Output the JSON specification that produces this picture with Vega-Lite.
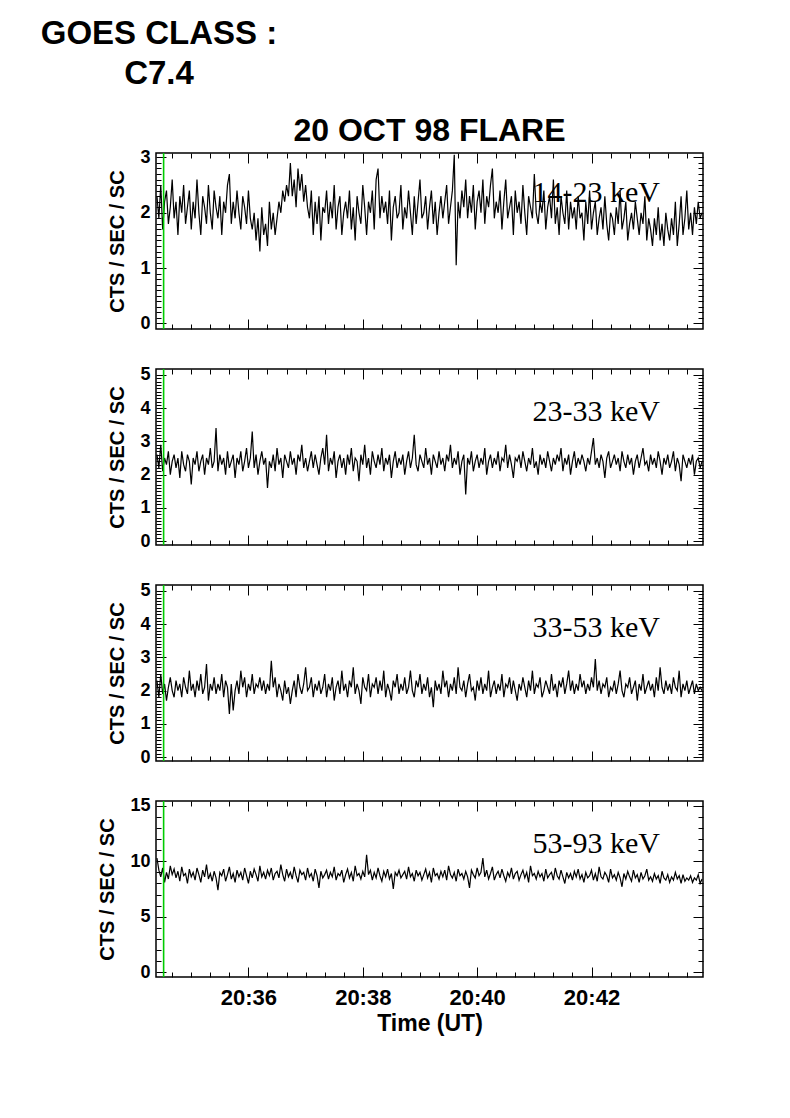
{
"$schema": "https://vega.github.io/schema/vega-lite/v6.json",
"padding": {"left": 40, "top": 17, "right": 10, "bottom": 10},
"background": "white",
"bounds": "flush",
"config": {
  "view": {"stroke": "black", "strokeWidth": 1.5},
  "axis": {"domain": false, "grid": false, "tickColor": "black", "tickWidth": 1, "labelColor": "black", "titleColor": "black", "labelFont": "Liberation Sans", "labelFontWeight": "bold", "titleFont": "Liberation Sans", "titleFontWeight": "bold"}
},
"title": {"text": ["GOES CLASS :", "C7.4"], "anchor": "start", "align": "center", "dx": 3, "fontSize": 33, "fontWeight": "bold", "font": "Liberation Sans", "lineHeight": 40, "offset": 24, "frame": "group", "color": "black"},
"spacing": 40,
"datasets": {"s": [
{"t":24,"a":2.3,"b":2.6,"c":2.3,"d":10.3},
{"t":26,"a":1.9,"b":2.2,"c":1.8,"d":9.2},
{"t":28,"a":2.5,"b":2.9,"c":2.5,"d":8.6},
{"t":30,"a":1.7,"b":2.1,"c":1.9,"d":9.4},
{"t":32,"a":2.2,"b":2.5,"c":2.2,"d":8.1},
{"t":34,"a":2.4,"b":2.3,"c":1.7,"d":9.0},
{"t":36,"a":1.8,"b":2.7,"c":2.1,"d":8.4},
{"t":38,"a":2.1,"b":2.0,"c":2.4,"d":9.6},
{"t":40,"a":2.6,"b":2.4,"c":2.0,"d":8.8},
{"t":42,"a":1.9,"b":2.6,"c":1.8,"d":9.3},
{"t":44,"a":2.2,"b":2.2,"c":2.3,"d":8.5},
{"t":46,"a":1.6,"b":2.5,"c":2.0,"d":9.1},
{"t":48,"a":2.3,"b":1.9,"c":2.2,"d":8.2},
{"t":50,"a":2.0,"b":2.7,"c":1.8,"d":9.5},
{"t":52,"a":2.5,"b":2.3,"c":2.4,"d":8.7},
{"t":54,"a":1.8,"b":2.1,"c":2.1,"d":8.9},
{"t":56,"a":2.1,"b":2.6,"c":1.9,"d":8.0},
{"t":58,"a":2.4,"b":2.4,"c":2.6,"d":9.3},
{"t":60,"a":1.7,"b":1.7,"c":2.0,"d":8.6},
{"t":62,"a":2.2,"b":2.5,"c":2.2,"d":9.0},
{"t":64,"a":1.9,"b":2.3,"c":1.8,"d":8.3},
{"t":66,"a":2.6,"b":2.7,"c":2.3,"d":9.4},
{"t":68,"a":2.0,"b":2.1,"c":2.0,"d":8.8},
{"t":70,"a":1.6,"b":2.4,"c":2.5,"d":8.1},
{"t":72,"a":2.3,"b":2.6,"c":1.9,"d":9.2},
{"t":74,"a":2.1,"b":2.0,"c":2.1,"d":8.6},
{"t":76,"a":1.8,"b":2.5,"c":2.8,"d":9.7},
{"t":78,"a":2.5,"b":2.3,"c":1.7,"d":8.4},
{"t":80,"a":2.0,"b":2.8,"c":2.2,"d":8.9},
{"t":82,"a":1.7,"b":2.2,"c":2.0,"d":8.2},
{"t":84,"a":2.4,"b":2.4,"c":2.4,"d":9.1},
{"t":86,"a":2.1,"b":3.4,"c":1.9,"d":8.5},
{"t":88,"a":1.9,"b":2.1,"c":2.2,"d":7.4},
{"t":90,"a":2.3,"b":2.6,"c":2.0,"d":9.0},
{"t":92,"a":1.6,"b":2.3,"c":2.5,"d":8.7},
{"t":94,"a":2.2,"b":2.5,"c":1.8,"d":9.3},
{"t":96,"a":2.0,"b":2.0,"c":2.3,"d":8.2},
{"t":98,"a":2.5,"b":2.7,"c":2.1,"d":8.8},
{"t":100,"a":2.7,"b":2.2,"c":1.3,"d":9.5},
{"t":102,"a":1.8,"b":2.4,"c":2.2,"d":8.4},
{"t":104,"a":2.2,"b":2.6,"c":1.4,"d":8.9},
{"t":106,"a":1.9,"b":1.9,"c":2.0,"d":8.1},
{"t":108,"a":2.4,"b":2.5,"c":2.3,"d":9.2},
{"t":110,"a":2.0,"b":2.3,"c":1.9,"d":8.6},
{"t":112,"a":1.7,"b":2.7,"c":2.6,"d":9.0},
{"t":114,"a":2.3,"b":2.1,"c":2.1,"d":8.3},
{"t":116,"a":2.1,"b":2.4,"c":2.4,"d":9.4},
{"t":118,"a":1.8,"b":2.8,"c":1.8,"d":8.7},
{"t":120,"a":2.4,"b":2.2,"c":2.2,"d":8.0},
{"t":122,"a":1.9,"b":2.5,"c":2.0,"d":9.1},
{"t":124,"a":1.7,"b":3.3,"c":2.5,"d":8.5},
{"t":126,"a":2.0,"b":2.2,"c":1.9,"d":9.3},
{"t":128,"a":1.5,"b":2.6,"c":2.2,"d":8.8},
{"t":130,"a":1.9,"b":2.0,"c":2.1,"d":8.2},
{"t":132,"a":1.3,"b":2.4,"c":2.4,"d":9.6},
{"t":134,"a":2.1,"b":2.7,"c":2.0,"d":8.6},
{"t":136,"a":1.6,"b":2.3,"c":2.3,"d":9.0},
{"t":138,"a":1.8,"b":2.5,"c":1.9,"d":8.4},
{"t":140,"a":1.4,"b":1.6,"c":2.2,"d":9.2},
{"t":142,"a":2.2,"b":2.4,"c":2.0,"d":8.7},
{"t":144,"a":1.7,"b":2.2,"c":2.9,"d":9.4},
{"t":146,"a":2.0,"b":2.6,"c":2.1,"d":8.3},
{"t":148,"a":1.6,"b":2.1,"c":2.4,"d":8.9},
{"t":150,"a":1.9,"b":2.8,"c":1.8,"d":9.1},
{"t":152,"a":2.2,"b":2.3,"c":2.2,"d":8.5},
{"t":154,"a":2.0,"b":2.5,"c":2.0,"d":9.7},
{"t":156,"a":2.4,"b":1.9,"c":1.7,"d":8.8},
{"t":158,"a":2.2,"b":2.6,"c":2.3,"d":8.2},
{"t":160,"a":2.5,"b":2.4,"c":1.9,"d":9.3},
{"t":162,"a":2.3,"b":2.2,"c":2.1,"d":8.6},
{"t":164,"a":2.9,"b":2.7,"c":1.6,"d":9.0},
{"t":166,"a":2.3,"b":2.3,"c":2.0,"d":8.4},
{"t":168,"a":2.6,"b":2.5,"c":2.3,"d":9.5},
{"t":170,"a":2.1,"b":2.0,"c":1.8,"d":8.7},
{"t":172,"a":2.8,"b":2.6,"c":2.5,"d":8.1},
{"t":174,"a":2.4,"b":2.4,"c":2.1,"d":9.2},
{"t":176,"a":2.7,"b":2.9,"c":1.9,"d":8.8},
{"t":178,"a":2.2,"b":2.2,"c":2.2,"d":9.0},
{"t":180,"a":2.5,"b":2.5,"c":2.7,"d":8.3},
{"t":182,"a":2.1,"b":2.1,"c":2.0,"d":9.4},
{"t":184,"a":1.9,"b":2.4,"c":2.1,"d":8.6},
{"t":186,"a":2.4,"b":2.7,"c":2.4,"d":8.9},
{"t":188,"a":1.6,"b":2.2,"c":1.8,"d":8.2},
{"t":190,"a":2.2,"b":2.6,"c":2.2,"d":9.3},
{"t":192,"a":1.8,"b":2.3,"c":2.0,"d":8.7},
{"t":194,"a":2.3,"b":2.0,"c":2.3,"d":7.6},
{"t":196,"a":1.5,"b":2.5,"c":1.9,"d":9.1},
{"t":198,"a":2.1,"b":2.8,"c":2.1,"d":8.5},
{"t":200,"a":2.0,"b":2.3,"c":2.5,"d":8.8},
{"t":202,"a":2.4,"b":3.2,"c":1.8,"d":9.2},
{"t":204,"a":1.8,"b":2.1,"c":2.2,"d":8.4},
{"t":206,"a":2.2,"b":2.5,"c":2.0,"d":9.0},
{"t":208,"a":1.9,"b":2.3,"c":2.4,"d":8.6},
{"t":210,"a":2.5,"b":2.7,"c":1.7,"d":9.5},
{"t":212,"a":1.7,"b":1.9,"c":2.1,"d":8.3},
{"t":214,"a":2.1,"b":2.4,"c":2.3,"d":8.9},
{"t":216,"a":2.3,"b":2.6,"c":1.9,"d":8.7},
{"t":218,"a":1.6,"b":2.2,"c":2.6,"d":9.2},
{"t":220,"a":2.0,"b":2.5,"c":2.0,"d":8.1},
{"t":222,"a":2.2,"b":2.0,"c":2.2,"d":8.8},
{"t":224,"a":1.9,"b":2.6,"c":1.8,"d":9.3},
{"t":226,"a":2.4,"b":2.3,"c":2.3,"d":8.5},
{"t":228,"a":1.7,"b":2.8,"c":2.1,"d":9.0},
{"t":230,"a":2.1,"b":2.1,"c":2.7,"d":8.2},
{"t":232,"a":1.5,"b":2.5,"c":1.9,"d":9.6},
{"t":234,"a":2.3,"b":2.4,"c":2.2,"d":8.7},
{"t":236,"a":2.0,"b":1.8,"c":2.0,"d":8.9},
{"t":238,"a":1.8,"b":2.6,"c":1.6,"d":8.4},
{"t":240,"a":2.5,"b":2.3,"c":2.4,"d":9.1},
{"t":242,"a":2.1,"b":2.9,"c":2.1,"d":8.6},
{"t":244,"a":1.6,"b":2.2,"c":2.0,"d":10.6},
{"t":246,"a":2.2,"b":2.5,"c":2.5,"d":8.8},
{"t":248,"a":2.0,"b":2.0,"c":1.8,"d":9.2},
{"t":250,"a":2.4,"b":2.7,"c":2.2,"d":8.3},
{"t":252,"a":1.7,"b":2.4,"c":2.1,"d":9.0},
{"t":254,"a":2.6,"b":2.2,"c":2.4,"d":8.5},
{"t":256,"a":2.8,"b":2.6,"c":1.9,"d":9.4},
{"t":258,"a":1.9,"b":2.3,"c":2.3,"d":8.7},
{"t":260,"a":2.3,"b":2.8,"c":2.0,"d":8.2},
{"t":262,"a":2.0,"b":2.1,"c":2.6,"d":9.1},
{"t":264,"a":2.2,"b":2.5,"c":1.8,"d":8.6},
{"t":266,"a":1.8,"b":2.3,"c":2.2,"d":9.3},
{"t":268,"a":2.4,"b":2.6,"c":2.0,"d":8.4},
{"t":270,"a":1.5,"b":1.9,"c":1.7,"d":8.9},
{"t":272,"a":2.1,"b":2.4,"c":2.3,"d":7.5},
{"t":274,"a":2.3,"b":2.7,"c":2.1,"d":9.0},
{"t":276,"a":1.9,"b":2.2,"c":2.5,"d":8.7},
{"t":278,"a":2.0,"b":2.5,"c":1.9,"d":9.2},
{"t":280,"a":2.5,"b":2.3,"c":2.2,"d":8.5},
{"t":282,"a":1.7,"b":2.6,"c":2.0,"d":8.8},
{"t":284,"a":2.1,"b":2.0,"c":2.4,"d":9.1},
{"t":286,"a":1.9,"b":2.4,"c":1.9,"d":8.4},
{"t":288,"a":2.4,"b":2.7,"c":2.1,"d":9.5},
{"t":290,"a":2.0,"b":2.2,"c":2.6,"d":8.6},
{"t":292,"a":1.6,"b":2.5,"c":2.0,"d":8.9},
{"t":294,"a":2.3,"b":3.2,"c":1.8,"d":8.2},
{"t":296,"a":1.8,"b":2.3,"c":2.3,"d":9.2},
{"t":298,"a":2.2,"b":2.1,"c":2.1,"d":8.7},
{"t":300,"a":2.6,"b":2.6,"c":2.5,"d":9.0},
{"t":302,"a":1.9,"b":2.4,"c":1.9,"d":8.3},
{"t":304,"a":2.0,"b":2.2,"c":2.2,"d":8.8},
{"t":306,"a":2.3,"b":2.8,"c":2.0,"d":9.3},
{"t":308,"a":1.7,"b":2.3,"c":2.4,"d":8.5},
{"t":310,"a":2.1,"b":2.5,"c":1.8,"d":9.0},
{"t":312,"a":2.4,"b":2.0,"c":2.1,"d":8.1},
{"t":314,"a":1.8,"b":2.6,"c":1.5,"d":9.4},
{"t":316,"a":2.2,"b":2.4,"c":2.3,"d":8.7},
{"t":318,"a":1.6,"b":2.2,"c":2.0,"d":8.9},
{"t":320,"a":2.0,"b":2.7,"c":2.2,"d":8.4},
{"t":322,"a":2.3,"b":2.3,"c":1.9,"d":9.1},
{"t":324,"a":1.9,"b":2.5,"c":2.6,"d":8.6},
{"t":326,"a":2.2,"b":2.1,"c":2.1,"d":9.2},
{"t":328,"a":2.5,"b":2.6,"c":2.3,"d":8.3},
{"t":330,"a":1.8,"b":2.4,"c":1.8,"d":9.6},
{"t":332,"a":2.1,"b":2.9,"c":2.2,"d":8.8},
{"t":334,"a":2.4,"b":2.2,"c":2.0,"d":8.5},
{"t":336,"a":3.05,"b":2.5,"c":2.4,"d":9.0},
{"t":338,"a":1.05,"b":2.3,"c":1.9,"d":8.2},
{"t":340,"a":2.2,"b":2.7,"c":2.7,"d":9.3},
{"t":342,"a":1.9,"b":2.0,"c":2.1,"d":8.7},
{"t":344,"a":2.4,"b":2.4,"c":2.0,"d":8.9},
{"t":346,"a":2.1,"b":2.6,"c":2.3,"d":8.4},
{"t":348,"a":2.6,"b":1.4,"c":1.8,"d":9.1},
{"t":350,"a":1.9,"b":2.5,"c":2.2,"d":8.6},
{"t":352,"a":2.3,"b":2.3,"c":2.5,"d":7.6},
{"t":354,"a":2.0,"b":2.7,"c":2.0,"d":9.2},
{"t":356,"a":2.5,"b":2.1,"c":2.1,"d":8.8},
{"t":358,"a":1.7,"b":2.4,"c":1.7,"d":8.5},
{"t":360,"a":2.2,"b":2.6,"c":2.3,"d":9.4},
{"t":362,"a":2.4,"b":2.2,"c":2.0,"d":8.7},
{"t":364,"a":2.0,"b":2.5,"c":2.4,"d":9.0},
{"t":366,"a":2.6,"b":2.3,"c":1.9,"d":10.3},
{"t":368,"a":1.8,"b":2.8,"c":2.2,"d":8.6},
{"t":370,"a":2.3,"b":2.0,"c":2.0,"d":9.2},
{"t":372,"a":2.1,"b":2.4,"c":2.6,"d":8.4},
{"t":374,"a":2.5,"b":2.6,"c":1.8,"d":8.9},
{"t":376,"a":2.8,"b":2.2,"c":2.1,"d":9.5},
{"t":378,"a":1.9,"b":2.5,"c":2.3,"d":8.3},
{"t":380,"a":2.2,"b":2.3,"c":1.9,"d":8.8},
{"t":382,"a":2.0,"b":2.7,"c":2.2,"d":9.1},
{"t":384,"a":2.4,"b":2.1,"c":2.0,"d":8.5},
{"t":386,"a":1.7,"b":2.5,"c":2.5,"d":9.3},
{"t":388,"a":2.2,"b":2.4,"c":1.8,"d":8.7},
{"t":390,"a":2.6,"b":2.9,"c":2.2,"d":8.2},
{"t":392,"a":1.9,"b":2.2,"c":2.1,"d":9.0},
{"t":394,"a":2.1,"b":2.6,"c":2.4,"d":8.6},
{"t":396,"a":2.3,"b":2.3,"c":1.9,"d":9.4},
{"t":398,"a":1.6,"b":1.9,"c":2.3,"d":8.4},
{"t":400,"a":2.4,"b":2.5,"c":2.0,"d":8.9},
{"t":402,"a":2.0,"b":2.4,"c":1.7,"d":9.1},
{"t":404,"a":2.2,"b":2.6,"c":2.2,"d":8.3},
{"t":406,"a":1.8,"b":2.2,"c":2.0,"d":8.8},
{"t":408,"a":2.5,"b":2.7,"c":2.4,"d":9.2},
{"t":410,"a":2.0,"b":2.4,"c":2.1,"d":8.5},
{"t":412,"a":1.6,"b":2.1,"c":1.8,"d":9.0},
{"t":414,"a":2.3,"b":2.5,"c":2.3,"d":8.1},
{"t":416,"a":2.1,"b":2.3,"c":2.0,"d":9.6},
{"t":418,"a":1.9,"b":2.8,"c":2.6,"d":8.7},
{"t":420,"a":2.7,"b":2.2,"c":1.9,"d":8.9},
{"t":422,"a":2.0,"b":2.4,"c":2.2,"d":8.4},
{"t":424,"a":1.8,"b":2.0,"c":2.1,"d":9.1},
{"t":426,"a":2.2,"b":2.6,"c":2.4,"d":8.6},
{"t":428,"a":2.0,"b":2.3,"c":1.8,"d":8.9},
{"t":430,"a":2.4,"b":2.5,"c":2.0,"d":8.2},
{"t":432,"a":1.7,"b":2.2,"c":2.3,"d":9.3},
{"t":434,"a":2.1,"b":2.7,"c":2.1,"d":8.5},
{"t":436,"a":2.3,"b":2.4,"c":1.9,"d":8.8},
{"t":438,"a":1.9,"b":2.1,"c":2.5,"d":9.0},
{"t":440,"a":2.6,"b":2.5,"c":2.0,"d":8.3},
{"t":442,"a":1.8,"b":2.3,"c":2.2,"d":9.4},
{"t":444,"a":2.1,"b":2.6,"c":1.8,"d":8.7},
{"t":446,"a":1.6,"b":2.4,"c":2.3,"d":8.4},
{"t":448,"a":2.3,"b":2.8,"c":2.1,"d":9.2},
{"t":450,"a":2.0,"b":2.1,"c":2.4,"d":8.6},
{"t":452,"a":1.8,"b":2.5,"c":1.9,"d":8.0},
{"t":454,"a":2.4,"b":2.3,"c":2.2,"d":9.0},
{"t":456,"a":1.7,"b":2.6,"c":2.6,"d":8.5},
{"t":458,"a":2.2,"b":2.0,"c":2.0,"d":8.9},
{"t":460,"a":1.9,"b":2.4,"c":2.3,"d":8.3},
{"t":462,"a":2.1,"b":2.7,"c":1.9,"d":9.1},
{"t":464,"a":1.7,"b":2.2,"c":2.2,"d":8.6},
{"t":466,"a":2.3,"b":2.5,"c":2.0,"d":9.3},
{"t":468,"a":1.9,"b":2.3,"c":2.5,"d":8.4},
{"t":470,"a":2.0,"b":2.6,"c":2.1,"d":8.8},
{"t":472,"a":1.5,"b":2.4,"c":2.3,"d":8.1},
{"t":474,"a":2.2,"b":2.1,"c":1.9,"d":9.0},
{"t":476,"a":1.8,"b":2.5,"c":2.2,"d":8.5},
{"t":478,"a":2.4,"b":2.3,"c":2.0,"d":8.7},
{"t":480,"a":1.7,"b":2.7,"c":2.4,"d":9.2},
{"t":482,"a":2.0,"b":3.1,"c":2.1,"d":8.3},
{"t":484,"a":2.2,"b":2.3,"c":2.95,"d":8.9},
{"t":486,"a":1.6,"b":2.5,"c":2.0,"d":8.2},
{"t":488,"a":1.9,"b":2.2,"c":2.3,"d":9.5},
{"t":490,"a":2.1,"b":2.6,"c":1.9,"d":8.6},
{"t":492,"a":1.7,"b":2.4,"c":2.2,"d":8.4},
{"t":494,"a":2.3,"b":1.9,"c":2.1,"d":9.0},
{"t":496,"a":1.8,"b":2.5,"c":2.4,"d":8.7},
{"t":498,"a":1.5,"b":2.7,"c":1.8,"d":8.1},
{"t":500,"a":2.0,"b":2.2,"c":2.1,"d":9.3},
{"t":502,"a":1.9,"b":2.4,"c":2.0,"d":8.5},
{"t":504,"a":1.6,"b":2.6,"c":2.3,"d":8.8},
{"t":506,"a":2.1,"b":2.3,"c":1.9,"d":8.3},
{"t":508,"a":1.8,"b":2.5,"c":2.2,"d":9.0},
{"t":510,"a":2.4,"b":2.1,"c":2.6,"d":8.5},
{"t":512,"a":1.7,"b":2.7,"c":2.0,"d":7.7},
{"t":514,"a":1.9,"b":2.4,"c":1.8,"d":8.9},
{"t":516,"a":2.2,"b":2.2,"c":2.2,"d":8.4},
{"t":518,"a":1.5,"b":2.6,"c":2.1,"d":9.1},
{"t":520,"a":1.8,"b":2.3,"c":2.4,"d":8.6},
{"t":522,"a":2.0,"b":2.5,"c":1.9,"d":8.2},
{"t":524,"a":1.7,"b":2.0,"c":2.1,"d":9.2},
{"t":526,"a":2.2,"b":2.4,"c":2.3,"d":8.5},
{"t":528,"a":1.9,"b":2.6,"c":1.7,"d":8.8},
{"t":530,"a":1.6,"b":2.2,"c":2.2,"d":8.1},
{"t":532,"a":2.0,"b":2.5,"c":2.0,"d":9.0},
{"t":534,"a":1.8,"b":2.8,"c":2.5,"d":8.4},
{"t":536,"a":2.3,"b":2.3,"c":1.9,"d":8.7},
{"t":538,"a":1.5,"b":2.4,"c":2.1,"d":9.3},
{"t":540,"a":1.9,"b":2.1,"c":2.3,"d":8.3},
{"t":542,"a":1.7,"b":2.6,"c":2.0,"d":8.6},
{"t":544,"a":1.4,"b":2.3,"c":2.2,"d":8.2},
{"t":546,"a":1.9,"b":2.5,"c":1.8,"d":8.9},
{"t":548,"a":1.6,"b":2.2,"c":2.4,"d":8.4},
{"t":550,"a":2.1,"b":2.7,"c":2.0,"d":8.7},
{"t":552,"a":1.5,"b":2.4,"c":2.7,"d":8.0},
{"t":554,"a":1.8,"b":2.0,"c":2.1,"d":9.1},
{"t":556,"a":1.4,"b":2.5,"c":1.9,"d":8.5},
{"t":558,"a":2.0,"b":2.3,"c":2.3,"d":8.3},
{"t":560,"a":1.7,"b":2.6,"c":2.0,"d":8.8},
{"t":562,"a":1.5,"b":2.2,"c":2.2,"d":8.1},
{"t":564,"a":1.9,"b":2.4,"c":1.9,"d":8.6},
{"t":566,"a":1.6,"b":2.7,"c":2.4,"d":8.3},
{"t":568,"a":2.2,"b":2.1,"c":2.1,"d":9.0},
{"t":570,"a":1.4,"b":2.5,"c":2.0,"d":8.4},
{"t":572,"a":1.8,"b":2.3,"c":2.6,"d":8.7},
{"t":574,"a":2.3,"b":1.8,"c":1.8,"d":8.0},
{"t":576,"a":1.6,"b":2.6,"c":2.2,"d":8.8},
{"t":578,"a":1.9,"b":2.4,"c":2.0,"d":8.2},
{"t":580,"a":2.4,"b":2.2,"c":2.3,"d":8.5},
{"t":582,"a":1.7,"b":2.5,"c":1.9,"d":8.3},
{"t":584,"a":2.0,"b":2.3,"c":2.1,"d":8.7},
{"t":586,"a":1.6,"b":2.6,"c":2.3,"d":8.1},
{"t":588,"a":2.1,"b":2.0,"c":1.9,"d":8.5},
{"t":590,"a":1.8,"b":2.4,"c":2.2,"d":8.3},
{"t":592,"a":2.2,"b":2.5,"c":2.0,"d":8.8},
{"t":594,"a":1.9,"b":2.2,"c":2.1,"d":8.0},
{"t":596,"a":2.0,"b":2.4,"c":2.0,"d":8.4}
]},
"vconcat": [
{
  "width": 547, "height": 176,
  "title": {"text": "20 OCT 98 FLARE", "fontSize": 32, "fontWeight": "bold", "font": "Liberation Sans", "offset": 0, "anchor": "middle", "color": "black"},
  "layer": [
    {"data": {"name": "s"}, "mark": {"type": "line", "color": "black", "strokeWidth": 1.2, "clip": true},
     "encoding": {
       "x": {"field": "t", "type": "quantitative", "scale": {"domain": [23, 597], "nice": false, "zero": false},
             "axis": {"orient": "bottom", "values": [40,60,80,100,120,140,160,180,200,220,240,260,280,300,320,340,360,380,400,420,440,460,480,500,520,540,560,580], "labels": false, "title": null, "tickSize": {"condition": {"test": "datum.value % 120 == 0", "value": -10}, "value": -5}}},
       "y": {"field": "a", "type": "quantitative", "scale": {"domain": [-0.1, 3.08], "nice": false, "zero": false},
             "axis": {"orient": "left", "values": [0,0.1,0.2,0.3,0.4,0.5,0.6,0.7,0.8,0.9,1,1.1,1.2,1.3,1.4,1.5,1.6,1.7,1.8,1.9,2,2.1,2.2,2.3,2.4,2.5,2.6,2.7,2.8,2.9,3], "labelExpr": "datum.value % 1 == 0 ? datum.value + '' : ''", "labelFontSize": 18, "labelPadding": 16, "title": "CTS / SEC / SC", "titleFontSize": 20, "titlePadding": 12, "tickSize": {"condition": {"test": "datum.value % 1 == 0", "value": -10}, "value": -5}}}
     }},
    {"data": {"values": [{"g": 31}]}, "mark": {"type": "rule", "color": "#00cc00", "strokeWidth": 1.6},
     "encoding": {"x": {"field": "g", "type": "quantitative", "scale": {"domain": [23, 597], "nice": false, "zero": false}, "axis": null}}},
    {"data": {"values": [{"tx": 485, "ty": 2.36, "lab": "14-23 keV"}]}, "mark": {"type": "text", "font": "Liberation Serif", "fontSize": 30, "color": "black"},
     "encoding": {
       "x": {"field": "tx", "type": "quantitative", "scale": {"domain": [23, 597], "nice": false, "zero": false},
             "axis": {"orient": "top", "values": [40,60,80,100,120,140,160,180,200,220,240,260,280,300,320,340,360,380,400,420,440,460,480,500,520,540,560,580], "labels": false, "title": null, "tickSize": {"condition": {"test": "datum.value % 120 == 0", "value": -10}, "value": -5}}},
       "y": {"field": "ty", "type": "quantitative", "scale": {"domain": [-0.1, 3.08], "nice": false, "zero": false},
             "axis": {"orient": "right", "values": [0,0.1,0.2,0.3,0.4,0.5,0.6,0.7,0.8,0.9,1,1.1,1.2,1.3,1.4,1.5,1.6,1.7,1.8,1.9,2,2.1,2.2,2.3,2.4,2.5,2.6,2.7,2.8,2.9,3], "labels": false, "title": null, "tickSize": {"condition": {"test": "datum.value % 1 == 0", "value": -10}, "value": -5}}},
       "text": {"field": "lab"}
     }}
  ],
  "resolve": {"axis": {"x": "independent", "y": "independent"}}
},
{
  "width": 547, "height": 176,
  "layer": [
    {"data": {"name": "s"}, "mark": {"type": "line", "color": "black", "strokeWidth": 1.2, "clip": true},
     "encoding": {
       "x": {"field": "t", "type": "quantitative", "scale": {"domain": [23, 597], "nice": false, "zero": false},
             "axis": {"orient": "bottom", "values": [40,60,80,100,120,140,160,180,200,220,240,260,280,300,320,340,360,380,400,420,440,460,480,500,520,540,560,580], "labels": false, "title": null, "tickSize": {"condition": {"test": "datum.value % 120 == 0", "value": -10}, "value": -5}}},
       "y": {"field": "b", "type": "quantitative", "scale": {"domain": [-0.12, 5.18], "nice": false, "zero": false},
             "axis": {"orient": "left", "values": [0,0.1,0.2,0.3,0.4,0.5,0.6,0.7,0.8,0.9,1,1.1,1.2,1.3,1.4,1.5,1.6,1.7,1.8,1.9,2,2.1,2.2,2.3,2.4,2.5,2.6,2.7,2.8,2.9,3,3.1,3.2,3.3,3.4,3.5,3.6,3.7,3.8,3.9,4,4.1,4.2,4.3,4.4,4.5,4.6,4.7,4.8,4.9,5], "labelExpr": "datum.value % 1 == 0 ? datum.value + '' : ''", "labelFontSize": 18, "labelPadding": 16, "title": "CTS / SEC / SC", "titleFontSize": 20, "titlePadding": 12, "tickSize": {"condition": {"test": "datum.value % 1 == 0", "value": -10}, "value": -5}}}
     }},
    {"data": {"values": [{"g": 31}]}, "mark": {"type": "rule", "color": "#00cc00", "strokeWidth": 1.6},
     "encoding": {"x": {"field": "g", "type": "quantitative", "scale": {"domain": [23, 597], "nice": false, "zero": false}, "axis": null}}},
    {"data": {"values": [{"tx": 485, "ty": 3.88, "lab": "23-33 keV"}]}, "mark": {"type": "text", "font": "Liberation Serif", "fontSize": 30, "color": "black"},
     "encoding": {
       "x": {"field": "tx", "type": "quantitative", "scale": {"domain": [23, 597], "nice": false, "zero": false},
             "axis": {"orient": "top", "values": [40,60,80,100,120,140,160,180,200,220,240,260,280,300,320,340,360,380,400,420,440,460,480,500,520,540,560,580], "labels": false, "title": null, "tickSize": {"condition": {"test": "datum.value % 120 == 0", "value": -10}, "value": -5}}},
       "y": {"field": "ty", "type": "quantitative", "scale": {"domain": [-0.12, 5.18], "nice": false, "zero": false},
             "axis": {"orient": "right", "values": [0,0.1,0.2,0.3,0.4,0.5,0.6,0.7,0.8,0.9,1,1.1,1.2,1.3,1.4,1.5,1.6,1.7,1.8,1.9,2,2.1,2.2,2.3,2.4,2.5,2.6,2.7,2.8,2.9,3,3.1,3.2,3.3,3.4,3.5,3.6,3.7,3.8,3.9,4,4.1,4.2,4.3,4.4,4.5,4.6,4.7,4.8,4.9,5], "labels": false, "title": null, "tickSize": {"condition": {"test": "datum.value % 1 == 0", "value": -10}, "value": -5}}},
       "text": {"field": "lab"}
     }}
  ],
  "resolve": {"axis": {"x": "independent", "y": "independent"}}
},
{
  "width": 547, "height": 176,
  "layer": [
    {"data": {"name": "s"}, "mark": {"type": "line", "color": "black", "strokeWidth": 1.2, "clip": true},
     "encoding": {
       "x": {"field": "t", "type": "quantitative", "scale": {"domain": [23, 597], "nice": false, "zero": false},
             "axis": {"orient": "bottom", "values": [40,60,80,100,120,140,160,180,200,220,240,260,280,300,320,340,360,380,400,420,440,460,480,500,520,540,560,580], "labels": false, "title": null, "tickSize": {"condition": {"test": "datum.value % 120 == 0", "value": -10}, "value": -5}}},
       "y": {"field": "c", "type": "quantitative", "scale": {"domain": [-0.12, 5.18], "nice": false, "zero": false},
             "axis": {"orient": "left", "values": [0,0.1,0.2,0.3,0.4,0.5,0.6,0.7,0.8,0.9,1,1.1,1.2,1.3,1.4,1.5,1.6,1.7,1.8,1.9,2,2.1,2.2,2.3,2.4,2.5,2.6,2.7,2.8,2.9,3,3.1,3.2,3.3,3.4,3.5,3.6,3.7,3.8,3.9,4,4.1,4.2,4.3,4.4,4.5,4.6,4.7,4.8,4.9,5], "labelExpr": "datum.value % 1 == 0 ? datum.value + '' : ''", "labelFontSize": 18, "labelPadding": 16, "title": "CTS / SEC / SC", "titleFontSize": 20, "titlePadding": 12, "tickSize": {"condition": {"test": "datum.value % 1 == 0", "value": -10}, "value": -5}}}
     }},
    {"data": {"values": [{"g": 31}]}, "mark": {"type": "rule", "color": "#00cc00", "strokeWidth": 1.6},
     "encoding": {"x": {"field": "g", "type": "quantitative", "scale": {"domain": [23, 597], "nice": false, "zero": false}, "axis": null}}},
    {"data": {"values": [{"tx": 485, "ty": 3.9, "lab": "33-53 keV"}]}, "mark": {"type": "text", "font": "Liberation Serif", "fontSize": 30, "color": "black"},
     "encoding": {
       "x": {"field": "tx", "type": "quantitative", "scale": {"domain": [23, 597], "nice": false, "zero": false},
             "axis": {"orient": "top", "values": [40,60,80,100,120,140,160,180,200,220,240,260,280,300,320,340,360,380,400,420,440,460,480,500,520,540,560,580], "labels": false, "title": null, "tickSize": {"condition": {"test": "datum.value % 120 == 0", "value": -10}, "value": -5}}},
       "y": {"field": "ty", "type": "quantitative", "scale": {"domain": [-0.12, 5.18], "nice": false, "zero": false},
             "axis": {"orient": "right", "values": [0,0.1,0.2,0.3,0.4,0.5,0.6,0.7,0.8,0.9,1,1.1,1.2,1.3,1.4,1.5,1.6,1.7,1.8,1.9,2,2.1,2.2,2.3,2.4,2.5,2.6,2.7,2.8,2.9,3,3.1,3.2,3.3,3.4,3.5,3.6,3.7,3.8,3.9,4,4.1,4.2,4.3,4.4,4.5,4.6,4.7,4.8,4.9,5], "labels": false, "title": null, "tickSize": {"condition": {"test": "datum.value % 1 == 0", "value": -10}, "value": -5}}},
       "text": {"field": "lab"}
     }}
  ],
  "resolve": {"axis": {"x": "independent", "y": "independent"}}
},
{
  "width": 547, "height": 176,
  "layer": [
    {"data": {"name": "s"}, "mark": {"type": "line", "color": "black", "strokeWidth": 1.2, "clip": true},
     "encoding": {
       "x": {"field": "t", "type": "quantitative", "scale": {"domain": [23, 597], "nice": false, "zero": false},
             "axis": {"orient": "bottom", "values": [40,60,80,100,120,140,160,180,200,220,240,260,280,300,320,340,360,380,400,420,440,460,480,500,520,540,560,580], "labelExpr": "datum.value % 120 == 0 ? '20:' + (34 + datum.value / 60) : ''", "labelFontSize": 22, "labelPadding": 20, "labelFlush": false, "labelOverlap": false, "title": "Time (UT)", "titleFontSize": 23, "titlePadding": -1, "tickSize": {"condition": {"test": "datum.value % 120 == 0", "value": -10}, "value": -5}}},
       "y": {"field": "d", "type": "quantitative", "scale": {"domain": [-0.45, 15.45], "nice": false, "zero": false},
             "axis": {"orient": "left", "values": [0,1,2,3,4,5,6,7,8,9,10,11,12,13,14,15], "labelExpr": "datum.value % 5 == 0 ? datum.value + '' : ''", "labelFontSize": 18, "labelPadding": 16, "title": "CTS / SEC / SC", "titleFontSize": 20, "titlePadding": 12, "tickSize": {"condition": {"test": "datum.value % 5 == 0", "value": -10}, "value": -5}}}
     }},
    {"data": {"values": [{"g": 31}]}, "mark": {"type": "rule", "color": "#00cc00", "strokeWidth": 1.6},
     "encoding": {"x": {"field": "g", "type": "quantitative", "scale": {"domain": [23, 597], "nice": false, "zero": false}, "axis": null}}},
    {"data": {"values": [{"tx": 485, "ty": 11.56, "lab": "53-93 keV"}]}, "mark": {"type": "text", "font": "Liberation Serif", "fontSize": 30, "color": "black"},
     "encoding": {
       "x": {"field": "tx", "type": "quantitative", "scale": {"domain": [23, 597], "nice": false, "zero": false},
             "axis": {"orient": "top", "values": [40,60,80,100,120,140,160,180,200,220,240,260,280,300,320,340,360,380,400,420,440,460,480,500,520,540,560,580], "labels": false, "title": null, "tickSize": {"condition": {"test": "datum.value % 120 == 0", "value": -10}, "value": -5}}},
       "y": {"field": "ty", "type": "quantitative", "scale": {"domain": [-0.45, 15.45], "nice": false, "zero": false},
             "axis": {"orient": "right", "values": [0,1,2,3,4,5,6,7,8,9,10,11,12,13,14,15], "labels": false, "title": null, "tickSize": {"condition": {"test": "datum.value % 5 == 0", "value": -10}, "value": -5}}},
       "text": {"field": "lab"}
     }}
  ],
  "resolve": {"axis": {"x": "independent", "y": "independent"}}
}
]
}
